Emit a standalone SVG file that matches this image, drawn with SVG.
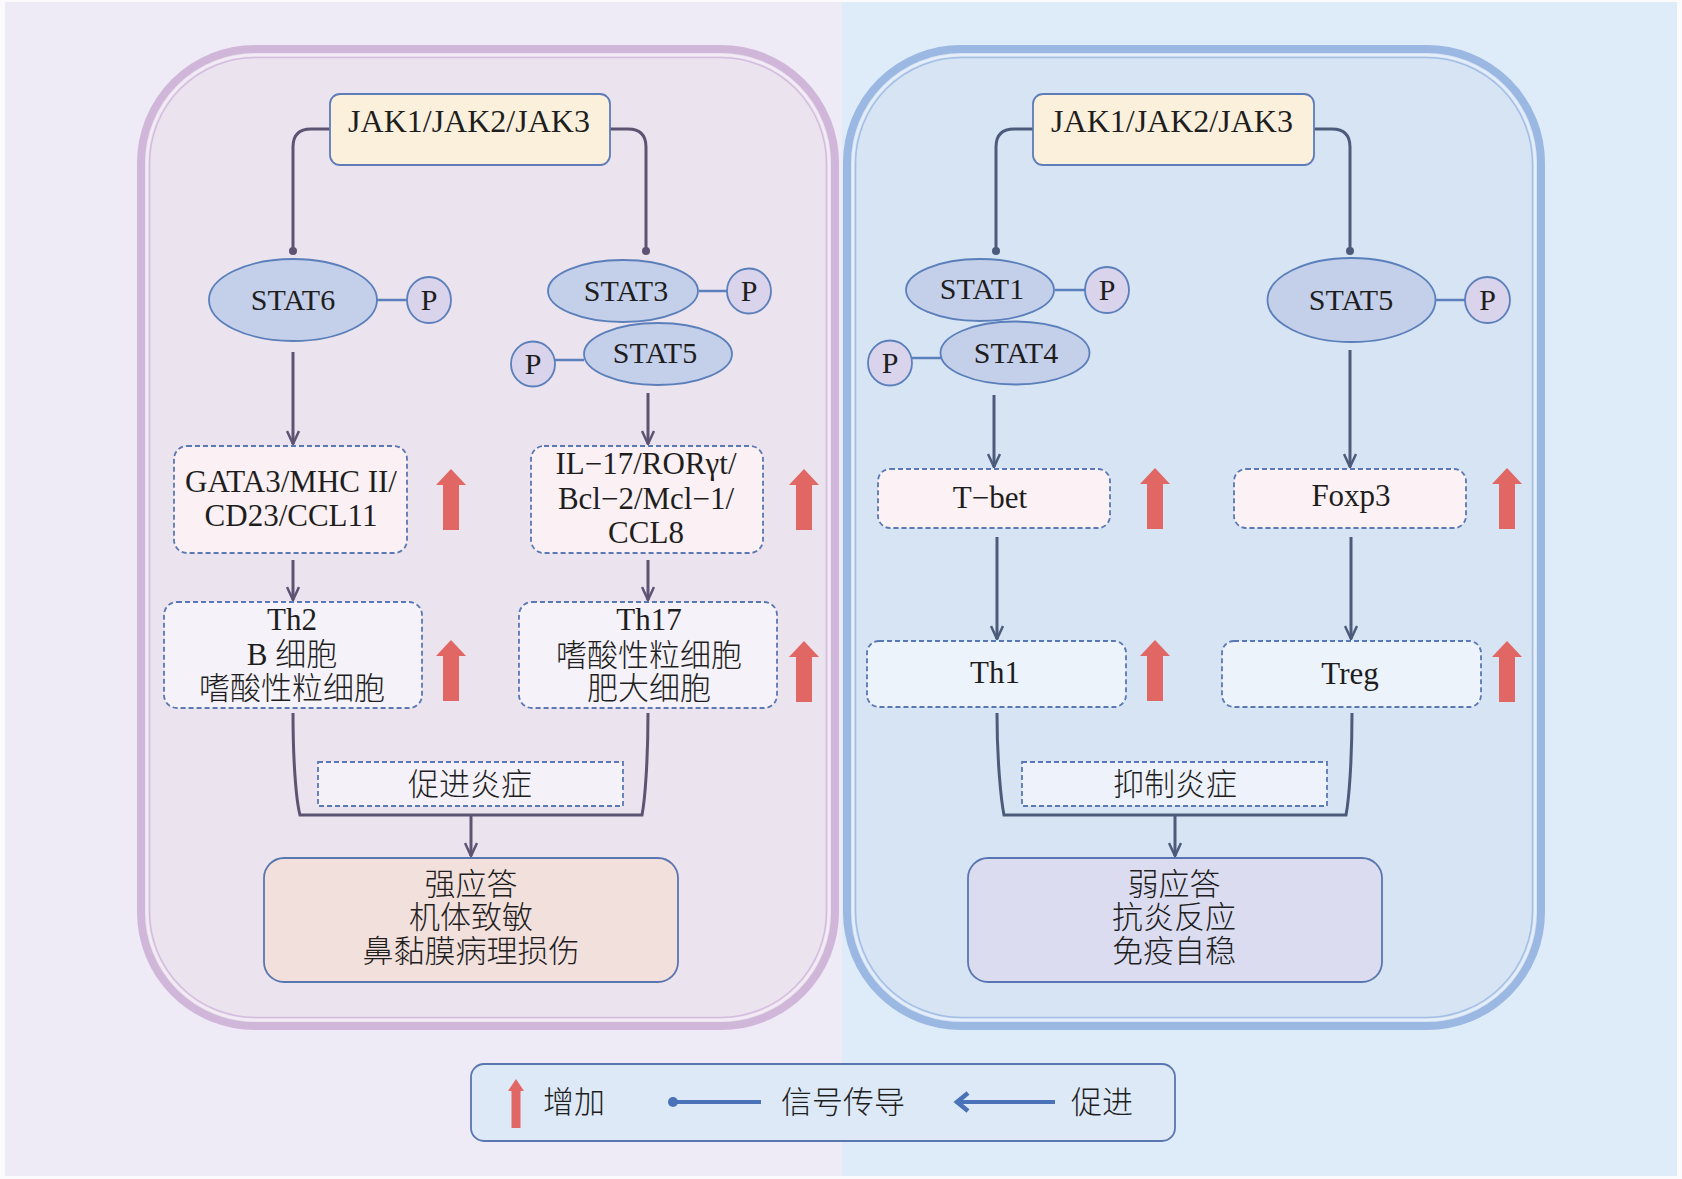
<svg xmlns="http://www.w3.org/2000/svg" width="1682" height="1179" viewBox="0 0 1682 1179">
<style>
text{font-family:"Liberation Serif","Noto Sans CJK SC",serif;fill:#1e1e1e;text-anchor:middle}
.lat{font-size:31px}
.jak{font-size:32px}
.st{font-size:30px}
.cjk{font-size:31px;font-weight:300}
.stat{fill:#c4cfea;stroke:#5b7fba;stroke-width:1.8}
.p{fill:#d9d3eb;stroke:#5b7fba;stroke-width:1.8}
.pl{stroke:#5b80bd;stroke-width:2.5;fill:none}
.dbox{stroke:#5a78b4;stroke-width:1.8;stroke-dasharray:5 3}
.jakbox{fill:#fbf0dc;stroke:#5d7cb8;stroke-width:1.8}
.cl{fill:none;stroke:#5c5472;stroke-width:3}
.cr{fill:none;stroke:#4d5b7a;stroke-width:3}
.up{fill:#e06763}
</style>
<defs>
<marker id="al" markerUnits="userSpaceOnUse" viewBox="0 0 16 14" refX="15" refY="7" markerWidth="16" markerHeight="14" orient="auto"><path d="M2,1 L15,7 L2,13" fill="none" stroke="#5c5472" stroke-width="2.5"/></marker>
<marker id="ar" markerUnits="userSpaceOnUse" viewBox="0 0 16 14" refX="15" refY="7" markerWidth="16" markerHeight="14" orient="auto"><path d="M2,1 L15,7 L2,13" fill="none" stroke="#4d5b7a" stroke-width="2.5"/></marker>
<marker id="dl" markerUnits="userSpaceOnUse" viewBox="0 0 10 10" refX="5" refY="5" markerWidth="10" markerHeight="10"><circle cx="5" cy="5" r="4" fill="#5c5472"/></marker>
<marker id="dr" markerUnits="userSpaceOnUse" viewBox="0 0 10 10" refX="5" refY="5" markerWidth="10" markerHeight="10"><circle cx="5" cy="5" r="4" fill="#4d5b7a"/></marker>
<path id="uparrow" class="up" d="M0,0 L15,16 L8,16 L8,61 L-8,61 L-8,16 L-15,16 Z"/>
</defs>

<!-- background -->
<rect x="0" y="0" width="1682" height="1179" fill="#fbfbfd"/>
<rect x="5" y="2" width="837" height="1174" fill="#eeebf6"/>
<rect x="842" y="2" width="835" height="1174" fill="#deebf8"/>

<!-- panels -->
<g id="panel-left">
<rect x="141" y="49" width="694" height="977" rx="114" fill="#ebe3ee" stroke="#d0b7da" stroke-width="8"/>
<rect x="147" y="55" width="682" height="965" rx="108" fill="none" stroke="#f3ecf5" stroke-width="2"/>
<rect x="149.5" y="57.5" width="677" height="960" rx="106" fill="none" stroke="#d4bde0" stroke-width="1.6"/>
</g>
<g id="panel-right">
<rect x="847" y="49" width="694" height="977" rx="114" fill="#d7e4f4" stroke="#9ab8e2" stroke-width="8"/>
<rect x="853" y="55" width="682" height="965" rx="108" fill="none" stroke="#e6eefa" stroke-width="2"/>
<rect x="855.5" y="57.5" width="677" height="960" rx="106" fill="none" stroke="#a3bfe5" stroke-width="1.6"/>
</g>

<!-- connectors -->
<g id="connectors">
<path class="cl" d="M330,129 L311,129 Q293,129 293,147 L293,251" marker-end="url(#dl)"/>
<path class="cl" d="M610,129 L628,129 Q646,129 646,147 L646,251" marker-end="url(#dl)"/>
<path class="cr" d="M1033,129 L1014,129 Q996,129 996,147 L996,251" marker-end="url(#dr)"/>
<path class="cr" d="M1314,129 L1332,129 Q1350,129 1350,147 L1350,251" marker-end="url(#dr)"/>

<path class="cl" d="M293,352 L293,444" marker-end="url(#al)"/>
<path class="cl" d="M648,393 L648,444" marker-end="url(#al)"/>
<path class="cl" d="M293,560 L293,600" marker-end="url(#al)"/>
<path class="cl" d="M648,560 L648,600" marker-end="url(#al)"/>
<path class="cl" d="M293,713 C293,760 296,800 300,815 L642,815 C645,800 648,760 648,713" stroke-width="3.5"/>
<path class="cl" d="M471,815 L471,856" marker-end="url(#al)"/>

<path class="cr" d="M994,395 L994,467" marker-end="url(#ar)"/>
<path class="cr" d="M1350,350 L1350,467" marker-end="url(#ar)"/>
<path class="cr" d="M997,537 L997,639" marker-end="url(#ar)"/>
<path class="cr" d="M1351,537 L1351,639" marker-end="url(#ar)"/>
<path class="cr" d="M997,713 C997,760 1001,800 1004,815 L1346,815 C1349,800 1352,760 1352,713" stroke-width="3.5"/>
<path class="cr" d="M1175,815 L1175,856" marker-end="url(#ar)"/>

<line class="pl" x1="377" y1="300" x2="407" y2="300"/>
<line class="pl" x1="699" y1="291" x2="727" y2="291"/>
<line class="pl" x1="555" y1="360" x2="584" y2="360"/>
<line class="pl" x1="1055" y1="290" x2="1086" y2="290"/>
<line class="pl" x1="912" y1="358" x2="941" y2="358"/>
<line class="pl" x1="1436" y1="300" x2="1465" y2="300"/>
</g>

<!-- left side nodes -->
<g id="jak-left"><rect class="jakbox" x="330" y="94" width="280" height="71" rx="10"/><text class="jak" x="469" y="132">JAK1/JAK2/JAK3</text></g>
<g id="stat6"><ellipse class="stat" cx="293" cy="300" rx="84" ry="41"/><text class="st" x="293" y="310">STAT6</text></g>
<g id="p-stat6"><ellipse class="p" cx="429" cy="300" rx="22" ry="23"/><text class="st" x="429" y="310">P</text></g>
<g id="stat3"><ellipse class="stat" cx="623" cy="291" rx="75" ry="31"/><text class="st" x="626" y="301">STAT3</text></g>
<g id="p-stat3"><ellipse class="p" cx="749" cy="291" rx="22" ry="22.5"/><text class="st" x="749" y="301">P</text></g>
<g id="stat5-left"><ellipse class="stat" cx="658" cy="354" rx="74" ry="31"/><text class="st" x="655" y="363">STAT5</text></g>
<g id="p-stat5-left"><ellipse class="p" cx="533" cy="364" rx="22" ry="22.5"/><text class="st" x="533" y="374">P</text></g>

<g id="gata3"><rect class="dbox" x="174" y="446" width="233" height="107" rx="13" fill="#fbf0f3"/><text class="lat" x="291" y="492">GATA3/MHC II/</text><text class="lat" x="291" y="526">CD23/CCL11</text></g>
<g id="il17"><rect class="dbox" x="531" y="446" width="232" height="107" rx="13" fill="#fbf0f3"/><text class="lat" x="646" y="474">IL−17/RORγt/</text><text class="lat" x="646" y="509">Bcl−2/Mcl−1/</text><text class="lat" x="646" y="543">CCL8</text></g>
<g id="th2"><rect class="dbox" x="164" y="602" width="258" height="106" rx="13" fill="#f5f2f9"/><text class="lat" x="292" y="630">Th2</text><text class="cjk" x="292" y="665">B 细胞</text><text class="cjk" x="292" y="699">嗜酸性粒细胞</text></g>
<g id="th17"><rect class="dbox" x="519" y="602" width="258" height="106" rx="13" fill="#f5f2f9"/><text class="lat" x="649" y="630">Th17</text><text class="cjk" x="649" y="666">嗜酸性粒细胞</text><text class="cjk" x="649" y="699">肥大细胞</text></g>
<g id="promote"><rect class="dbox" x="318" y="762" width="305" height="44" fill="#f4f1f9"/><text class="cjk" x="470" y="795">促进炎症</text></g>
<g id="strong"><rect x="264" y="858" width="414" height="124" rx="20" fill="#f2e0dd" stroke="#5a76b0" stroke-width="1.8"/><text class="cjk" x="471" y="895">强应答</text><text class="cjk" x="471" y="928">机体致敏</text><text class="cjk" x="471" y="962">鼻黏膜病理损伤</text></g>

<!-- right side nodes -->
<g id="jak-right"><rect class="jakbox" x="1033" y="94" width="281" height="71" rx="10"/><text class="jak" x="1172" y="132">JAK1/JAK2/JAK3</text></g>
<g id="stat1"><ellipse class="stat" cx="980" cy="290" rx="74" ry="31"/><text class="st" x="982" y="299">STAT1</text></g>
<g id="p-stat1"><ellipse class="p" cx="1107" cy="290" rx="22" ry="23"/><text class="st" x="1107" y="300">P</text></g>
<g id="stat4"><ellipse class="stat" cx="1015" cy="353" rx="74.5" ry="31.5"/><text class="st" x="1016" y="363">STAT4</text></g>
<g id="p-stat4"><ellipse class="p" cx="890" cy="363" rx="22" ry="22.5"/><text class="st" x="890" y="373">P</text></g>
<g id="stat5-right"><ellipse class="stat" cx="1351.5" cy="300" rx="84" ry="42"/><text class="st" x="1351" y="310">STAT5</text></g>
<g id="p-stat5-right"><ellipse class="p" cx="1487.5" cy="300" rx="22.5" ry="23"/><text class="st" x="1487.5" y="310">P</text></g>

<g id="tbet"><rect class="dbox" x="878" y="469" width="232" height="59" rx="12" fill="#fcf1f4"/><text class="lat" x="990" y="508">T−bet</text></g>
<g id="foxp3"><rect class="dbox" x="1234" y="469" width="232" height="59" rx="12" fill="#fcf1f4"/><text class="lat" x="1351" y="506">Foxp3</text></g>
<g id="th1"><rect class="dbox" x="867" y="641" width="259" height="66" rx="12" fill="#edf3fb"/><text class="lat" x="995" y="683">Th1</text></g>
<g id="treg"><rect class="dbox" x="1222" y="641" width="259" height="66" rx="12" fill="#edf3fb"/><text class="lat" x="1350" y="684">Treg</text></g>
<g id="suppress"><rect class="dbox" x="1022" y="762" width="305" height="44" fill="#eef3fb"/><text class="cjk" x="1175" y="795">抑制炎症</text></g>
<g id="weak"><rect x="968" y="858" width="414" height="124" rx="20" fill="#dcdcf0" stroke="#5a76b0" stroke-width="1.8"/><text class="cjk" x="1174" y="895">弱应答</text><text class="cjk" x="1174" y="928">抗炎反应</text><text class="cjk" x="1174" y="962">免疫自稳</text></g>

<!-- increase arrows -->
<g id="increase-arrows">
<use href="#uparrow" x="451" y="469"/>
<use href="#uparrow" x="804" y="469"/>
<use href="#uparrow" x="451" y="640"/>
<use href="#uparrow" x="804" y="641"/>
<use href="#uparrow" x="1155" y="468"/>
<use href="#uparrow" x="1507" y="468"/>
<use href="#uparrow" x="1155" y="640"/>
<use href="#uparrow" x="1507" y="641"/>
</g>

<!-- legend -->
<g id="legend">
<rect x="471" y="1064" width="704" height="77" rx="13" fill="#dde9f6" stroke="#5a76b0" stroke-width="1.8"/>
<path class="up" d="M516,1079 L524,1091 L520.5,1091 L520.5,1128 L511.5,1128 L511.5,1091 L508,1091 Z"/>
<text class="cjk" x="574" y="1113">增加</text>
<circle cx="673" cy="1102" r="5" fill="#4a72b8"/>
<line x1="673" y1="1102" x2="761" y2="1102" stroke="#4a72b8" stroke-width="4"/>
<text class="cjk" x="843" y="1113">信号传导</text>
<line x1="959" y1="1102" x2="1055" y2="1102" stroke="#4a72b8" stroke-width="4"/>
<path d="M968,1093 L957,1102 L968,1111" fill="none" stroke="#4a72b8" stroke-width="4.5"/>
<text class="cjk" x="1102" y="1113">促进</text>
</g>
</svg>
